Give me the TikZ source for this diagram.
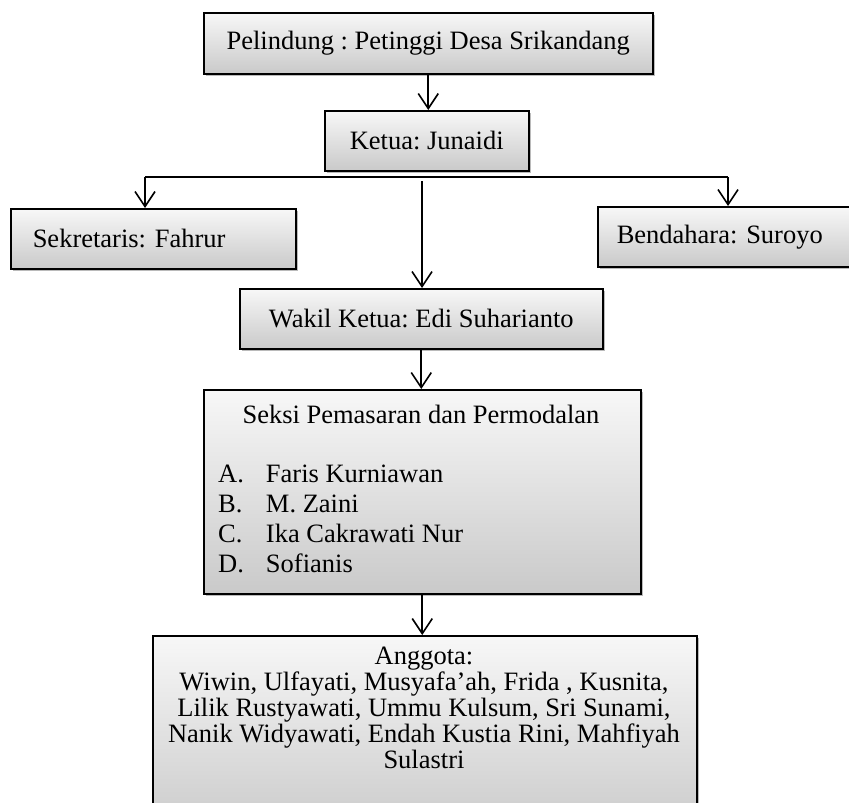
\documentclass[tikz,border=0pt]{standalone}
\usepackage{fontspec}
\setmainfont{Liberation Serif}
\usetikzlibrary{positioning,arrows.meta,shadows}
\frenchspacing

\begin{document}
\begin{tikzpicture}[
            x=1pt, y=-1pt,
            box/.style={draw=black, line width=1.5pt, top color=gray!6, bottom color=gray!42,
                drop shadow={shadow xshift=2.5pt, shadow yshift=-2.5pt, fill=black!45, opacity=0.6},
                anchor=north west, inner sep=0pt, font=\fontsize{26.5}{30}\selectfont},
            txt/.style={inner sep=0pt, font=\fontsize{26.5}{30}\selectfont},
            arr/.style={-{Straight Barb[length=15pt, width=20pt, line width=1.6pt]}, line width=1.6pt}
        ]
        \useasboundingbox (0,0) rectangle (849,803);

        % Boxes
        \node[box, minimum width=449pt, minimum height=61pt] (pel) at (203,12) {Pelindung : Petinggi Desa Srikandang};
        \node[box, minimum width=204pt, minimum height=60pt] (ket) at (324,110) {Ketua: Junaidi};
        \node[box, minimum width=263pt, minimum height=60pt, align=left, text width=241pt, inner xsep=22pt] (sek) at (10,208) {Sekretaris: Fahrur};
        \node[box, minimum width=245pt, minimum height=60pt, align=left, text width=226pt, inner xsep=19pt] (ben) at (597,206) {Bendahara: Suroyo};
        \node[box, minimum width=363pt, minimum height=60pt] (wak) at (239,288) {Wakil Ketua: Edi Suharianto};
        \node[box, minimum width=437pt, minimum height=204pt] (sek2) at (203,389) {};
        \node[box, minimum width=544pt, minimum height=200pt] (ang) at (152,635) {};

        % Texts of the big boxes
        \node[txt, anchor=base] (sek2t) at (421,423) {Seksi Pemasaran dan Permodalan};
        \node[txt, anchor=base west] (sek2l) at (218,482) {%
            \begin{tabular}[t]{@{}l@{\hspace{22pt}}l@{}}
            A. & Faris Kurniawan\\
            B. & M. Zaini\\
            C. & Ika Cakrawati Nur\\
            D. & Sofianis
            \end{tabular}};
        \node[txt, anchor=north, align=center, font=\fontsize{26.5}{26}\selectfont] (angt) at (424,647) {%
            Anggota:\\
            Wiwin, Ulfayati, Musyafa’ah, Frida , Kusnita,\\
            Lilik Rustyawati, Ummu Kulsum, Sri Sunami,\\
            Nanik Widyawati, Endah Kustia Rini, Mahfiyah\\
            Sulastri};

        % Connectors
        \coordinate (barL) at (145,177);
        \coordinate (barR) at (728,177);
        \coordinate (mid) at (422,181);
        \draw[arr] (pel.south) -- (pel.south |- ket.north);
        \draw[line width=1.6pt] (barL) -- (barR);
        \draw[arr] (barL) -- (barL |- sek.north);
        \draw[arr] (barR) -- (barR |- ben.north);
        \draw[arr] (mid) -- (mid |- wak.north);
        \draw[arr] (wak.south) -- (wak.south |- sek2.north);
        \draw[arr] (sek2.south) -- (sek2.south |- ang.north);
\end{tikzpicture}
\end{document}
